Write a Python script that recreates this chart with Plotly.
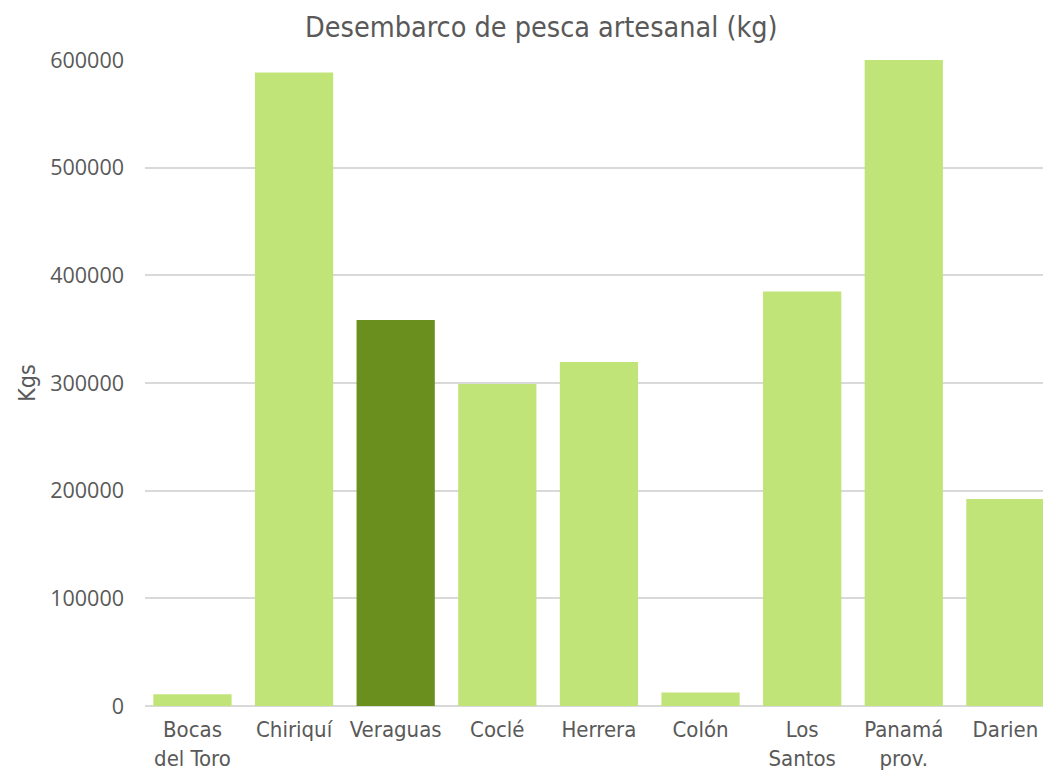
import plotly.graph_objects as go

# Desembarco de pesca artesanal por provincia (kg)
provincias = ["Bocas<br>del Toro", "Chiriquí", "Veraguas", "Coclé", "Herrera",
              "Colón", "Los<br>Santos", "Panamá<br>prov.", "Darien"]
kilogramos = [11000, 588500, 358500, 299000, 319500, 12500, 385000, 640000, 192300]
destacada = "Veraguas"

VERDE_CLARO = "#C1E479"
VERDE_OSCURO = "#6B8F1E"
GRIS_TEXTO = "#595959"
FUENTE = "DejaVu Sans Condensed, Liberation Sans Narrow, sans-serif"

colores = [VERDE_OSCURO if p == destacada else VERDE_CLARO for p in provincias]

fig = go.Figure(
    go.Bar(
        x=list(range(len(provincias))),
        y=kilogramos,
        marker=dict(color=colores, line=dict(width=0)),
    )
)

fig.update_layout(
    width=1043,
    height=775,
    paper_bgcolor="white",
    plot_bgcolor="white",
    margin=dict(l=145, r=0, t=60, b=69),
    bargap=0.23,
    showlegend=False,
    font=dict(family=FUENTE, color=GRIS_TEXTO, size=22),
    title=dict(
        text="Desembarco de pesca artesanal (kg)",
        x=0.519,
        xanchor="center",
        y=0.965,
        yanchor="middle",
        font=dict(family=FUENTE, size=28.5, color=GRIS_TEXTO),
    ),
)

fig.update_xaxes(
    range=[-0.467, 8.37],
    automargin=False,
    tickmode="array",
    tickvals=list(range(len(provincias))),
    ticktext=provincias,
    showgrid=False,
    zeroline=False,
    showline=False,
    ticks="",
    ticklabelstandoff=8,
    ticklabeloverflow="allow",
    tickfont=dict(family=FUENTE, size=22, color=GRIS_TEXTO),
)

fig.update_yaxes(
    range=[0, 600000],
    automargin=False,
    tickmode="array",
    tickvals=[0, 100000, 200000, 300000, 400000, 500000, 600000],
    ticktext=["0", "100000", "200000", "300000", "400000", "500000", "600000"],
    showgrid=True,
    gridcolor="#D9D9D9",
    gridwidth=1.5,
    zeroline=True,
    zerolinecolor="#D9D9D9",
    zerolinewidth=2,
    showline=False,
    ticks="",
    ticklabelstandoff=20,
    tickfont=dict(family="Open Sans, sans-serif", size=21.5, color=GRIS_TEXTO),
    title=dict(text="Kgs", standoff=8,
               font=dict(family=FUENTE, size=23, color=GRIS_TEXTO)),
)

fig.write_html("out.html")
